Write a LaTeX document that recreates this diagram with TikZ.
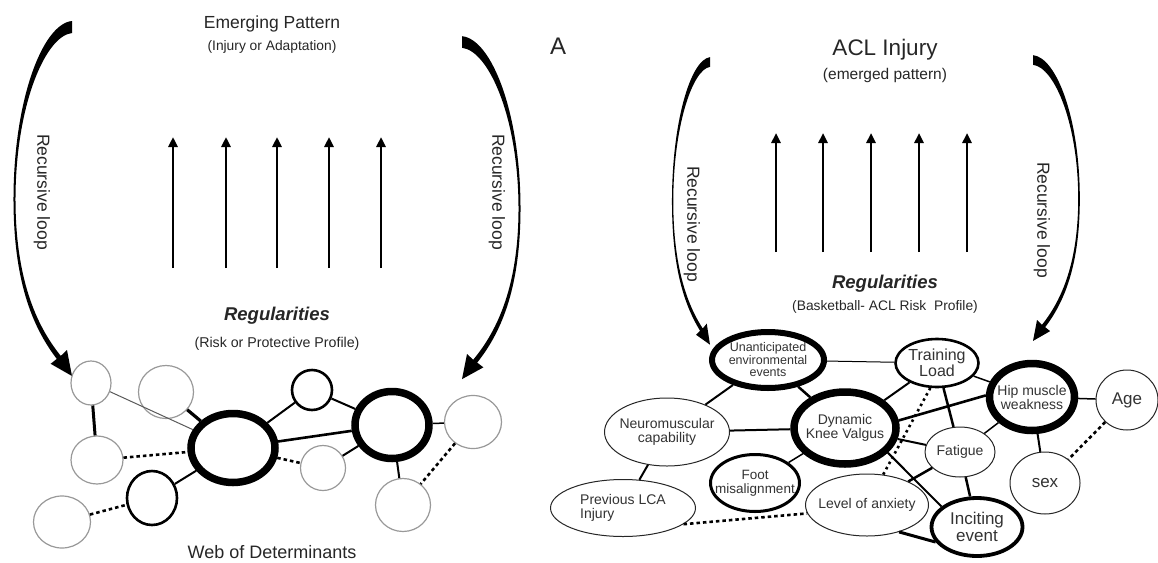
\documentclass[tikz,border=0pt]{standalone}
\usepackage{fontspec}
\setmainfont{Liberation Sans}
\usetikzlibrary{shapes.geometric,arrows.meta}

\newcommand\setfs[1]{\fontsize{#1}{#1}\selectfont}

\tikzset{
  % tapered curved "recursive loop" stroke: blunt top end at (0,0), tip at (0,348)
  swoosh/.pic={
    \fill[black]
      (0,-6) .. controls (-30,-3) and (-59,75) .. (-58.5,175)
      .. controls (-58,250) and (-42,297) .. (-15.2,331.9)
      -- (-21.4,336.8) -- (0,349) -- (-5,323) -- (-11.2,328.9)
      .. controls (-37,297) and (-56,250) .. (-56.5,175)
      .. controls (-57,80) and (-27,9) .. (0,6) -- cycle;
  }
}

\begin{document}
\begin{tikzpicture}[x=1pt,y=-1pt,
  txt/.style={text=black!85, inner sep=0pt},
  intext/.style={text=black!80, inner sep=0pt, align=center},
  ell/.style={ellipse, inner sep=0pt, fill=white},
  soft/.style={ell, draw=black!40, line width=1.2pt},
  plain/.style={ell, draw=black!85, line width=1pt},
  ring/.style={ell, draw=black, line width=2.6pt},
  hub/.style={ell, draw=black, line width=7.5pt},
  link/.style={draw=black, line width=2pt},
  dashlink/.style={draw=black, line width=2.6pt, dash pattern=on 3.5pt off 3pt},
  dotlink/.style={draw=black, line width=2.6pt, dash pattern=on 2.5pt off 3.5pt},
  uparrow/.style={line width=2.8pt, -{Triangle[length=10pt,width=9pt]}},
  loop/.style={txt, rotate=-90, font=\setfs{17.5}}
]
\useasboundingbox (0,0) rectangle (1158,562);

% ---------------- left panel: general model ----------------
\node[txt, font=\setfs{17.5}] (emerg) at (272,24) {Emerging Pattern};
\node[txt, font=\setfs{13.8}] (emergsub) at (272,47) {(Injury or Adaptation)};
\node[txt, font=\setfs{24}] (panelA) at (558,46) {A};

\pic at (72,27) {swoosh};
\pic[xscale=-1, yscale=0.966] at (462,42) {swoosh};
\node[loop] (loopL1) at (42,192) {Recursive loop};
\node[loop] (loopL2) at (497,192) {Recursive loop};

\foreach \x in {173,226,277,329,381}
  \draw[uparrow] (\x,268) -- (\x,137);

\node[txt, font=\bfseries\itshape\setfs{18.5}] (regL) at (277,316) {Regularities};
\node[txt, font=\setfs{14.2}] (regLsub) at (277,344) {(Risk or Protective Profile)};

% web of determinants
\node[soft, minimum width=40pt, minimum height=44pt] (n1) at (91,383) {};
\node[soft, minimum width=55pt, minimum height=53pt] (n2) at (166,392) {};
\node[soft, minimum width=52pt, minimum height=48pt] (n3) at (97,460) {};
\node[soft, minimum width=57pt, minimum height=52pt] (n4) at (62,522) {};
\node[ring, minimum width=50pt, minimum height=54pt] (n5) at (152,498) {};
\node[hub,  minimum width=84pt, minimum height=69pt] (n6) at (233,448) {};
\node[ring, minimum width=40pt, minimum height=40pt] (n7) at (312,390) {};
\node[hub,  minimum width=74pt, minimum height=67pt] (n8) at (392,425) {};
\node[soft, minimum width=45pt, minimum height=45pt] (n9) at (323,468) {};
\node[soft, minimum width=57pt, minimum height=53pt] (n10) at (473,422) {};
\node[soft, minimum width=55pt, minimum height=53pt] (n11) at (403,505) {};

\draw[link, line width=3pt] (n1) -- (n3);
\draw[line width=1pt, draw=black!65] (n1) -- (n6);
\draw[link, line width=3.2pt] (n2) -- (n6);
\draw[dashlink] (n3) -- (n6);
\draw[link] (n5) -- (n6);
\draw[dashlink] (n4) -- (n5);
\draw[link] (n6) -- (n7);
\draw[link, line width=2.6pt] (n6) -- (n8);
\draw[dashlink] (n6) -- (n9);
\draw[link] (n7) -- (n8);
\draw[link] (n9) -- (n8);
\draw[link, line width=1.5pt] (n8) -- (n10);
\draw[link] (n8) -- (n11);
\draw[dashlink] (n10) -- (n11);

\node[txt, font=\setfs{18}] (web) at (272,552) {Web of Determinants};

% ---------------- right panel: ACL injury ----------------
\node[txt, font=\setfs{22.5}] (acl) at (885,50) {ACL Injury};
\node[txt, font=\setfs{15.5}] (aclsub) at (885,75) {(emerged pattern)};

\pic[xscale=0.65, yscale=0.81] at (710,62) {swoosh};
\pic[xscale=-0.8, yscale=0.805] at (1033,60) {swoosh};
\node[loop] (loopR1) at (692,224) {Recursive loop};
\node[loop] (loopR2) at (1042,220) {Recursive loop};

\foreach \x in {776,823,871,919,967}
  \draw[uparrow] (\x,252) -- (\x,133);

\node[txt, font=\bfseries\itshape\setfs{18.5}] (regR) at (885,284) {Regularities};
\node[txt, font=\setfs{13.8}] (regRsub) at (885,307) {(Basketball- ACL Risk\ \ Profile)};

\node[ell, draw=black, line width=6pt, minimum width=112pt, minimum height=56pt,
  label={[intext, font=\setfs{12.5}\linespread{0.9}]center:{Unanticipated\\environmental\\events}}] (ue) at (768,360) {};
\node[plain, minimum width=125pt, minimum height=68pt,
  label={[intext, font=\setfs{14}]center:{Neuromuscular\\capability}}] (nm) at (667,432) {};
\node[plain, minimum width=145pt, minimum height=57pt,
  label={[intext, align=left, font=\setfs{14}]center:{Previous LCA\\Injury}}] (pl) at (623,508) {};
\node[ring, line width=3pt, minimum width=89pt, minimum height=57pt,
  label={[intext, font=\setfs{13.5}]center:{Foot\\misalignment}}] (fm) at (755,483) {};
\node[hub, minimum width=102pt, minimum height=72pt,
  label={[intext, font=\setfs{14}]center:{Dynamic\\Knee Valgus}}] (dkv) at (845,428) {};
\node[plain, minimum width=123pt, minimum height=62pt,
  label={[intext, font=\setfs{14}]center:{Level of anxiety}}] (la) at (867,505) {};
\node[ring, minimum width=83pt, minimum height=48pt,
  label={[intext, font=\setfs{16}]center:{Training\\Load}}] (tl) at (937,363) {};
\node[hub, minimum width=85pt, minimum height=67pt,
  label={[intext, font=\setfs{14}]center:{Hip muscle\\weakness}}] (hip) at (1032,397) {};
\node[plain, minimum width=62pt, minimum height=60pt,
  label={[intext, font=\setfs{17}]center:{Age}}] (age) at (1127,400) {};
\node[plain, minimum width=70pt, minimum height=50pt,
  label={[intext, font=\setfs{14}]center:{Fatigue}}] (fat) at (960,452) {};
\node[plain, minimum width=70pt, minimum height=62pt,
  label={[intext, font=\setfs{17}]center:{sex}}] (sex) at (1045,483) {};
\node[ring, line width=3.8pt, minimum width=91pt, minimum height=58pt,
  label={[intext, font=\setfs{17}]center:{Inciting\\event}}] (ie) at (977,527) {};

\draw[line width=1pt] (ue) -- (tl);
\draw[link] (ue) -- (nm);
\draw[link, line width=2.5pt] (ue) -- (dkv);
\draw[link] (nm) -- (dkv);
\draw[link] (nm) -- (pl);
\draw[link, line width=1.5pt] (fm) -- (dkv);
\draw[dashlink] (pl.-15) -- (la.188);
\draw[link] (dkv) -- (tl);
\draw[link, line width=2.6pt] (dkv.8) -- (hip.178);
\draw[link] (dkv) -- (fat);
\draw[link] (dkv.-30) -- (ie.150);
\draw[link, line width=2.5pt] (tl) -- (fat);
\draw[dotlink] (tl.255) -- (la.62);
\draw[link, line width=1.5pt] (tl) -- (hip);
\draw[link, line width=1.5pt] (hip) -- (fat);
\draw[link, line width=1.5pt] (hip) -- (age);
\draw[link] (hip) -- (sex);
\draw[dashlink] (age) -- (sex);
\draw[link, line width=2.5pt] (fat) -- (la);
\draw[link, line width=2.5pt] (fat) -- (ie);
\draw[link, line width=3pt] (la.-40) -- (ie.200);
\end{tikzpicture}
\end{document}
